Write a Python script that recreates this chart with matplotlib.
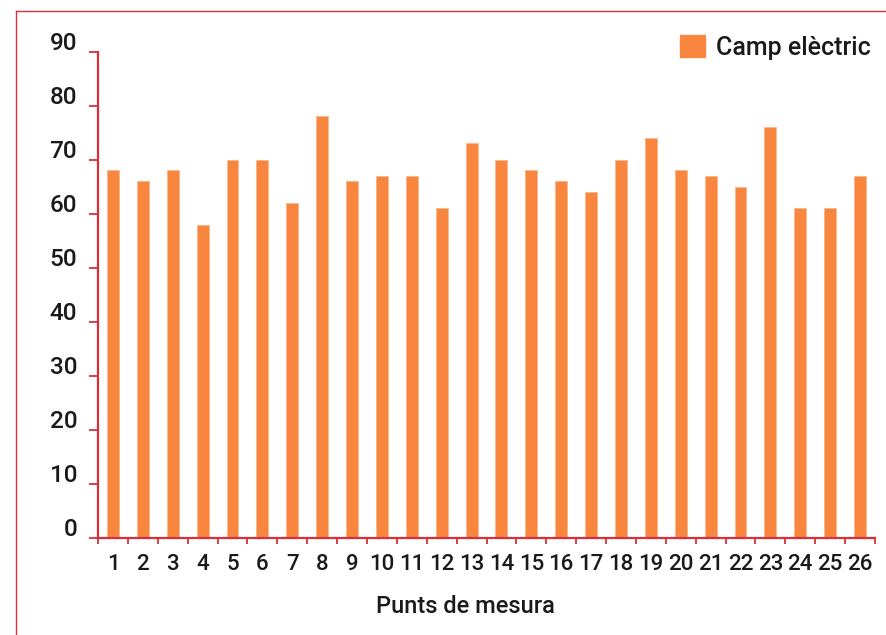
import matplotlib
matplotlib.use("Agg")
import matplotlib.pyplot as plt
import matplotlib.transforms as mtransforms
from matplotlib.lines import Line2D
from matplotlib.patches import Patch

# ---- data ----
points = list(range(1, 27))
values = [68, 66, 68, 58, 70, 70, 62, 78, 66, 67, 67, 61, 73,
          70, 68, 66, 64, 70, 74, 68, 67, 65, 76, 61, 61, 67]
y_ticks = [0, 10, 20, 30, 40, 50, 60, 70, 80, 90]
series_name = "Camp elèctric"
x_label = "Punts de mesura"

RED = "#d8303b"
ORANGE = "#f8863f"
TXT = "#1a1a1a"

plt.rcParams['font.family'] = ['Roboto', 'DejaVu Sans']
plt.rcParams['font.weight'] = 'medium'
plt.rcParams['axes.labelweight'] = 'medium'

W, H = 886, 635
fig = plt.figure(figsize=(W / 100, H / 100), dpi=100)
ax = fig.add_axes([98 / W, 1 - 537.7 / H, 777 / W, (537.7 - 51.7) / H])

ax.bar(points, values, width=0.4, color=ORANGE, edgecolor="#fbb58a",
       linewidth=0.6, label=series_name, zorder=2)

ax.set_xlim(0.5, 26.5)
ax.set_ylim(0, 90)

for s in ("top", "right"):
    ax.spines[s].set_visible(False)
for s in ("left", "bottom"):
    ax.spines[s].set_color(RED)
    ax.spines[s].set_linewidth(1.6)

# y ticks
ax.set_yticks(y_ticks)
ax.set_yticklabels([str(v) for v in y_ticks])
ax.tick_params(axis="y", direction="out", length=6.5, width=1.3, color=RED,
               labelsize=17.5, labelcolor=TXT, pad=8.5)
off = mtransforms.ScaledTranslation(0, 2 / 100, fig.dpi_scale_trans)
for lab in ax.get_yticklabels():
    lab.set_va("baseline")
    lab.set_transform(lab.get_transform() + off)

# x ticks: marks at boundaries, labels at centers
bounds = [p - 0.5 for p in points] + [points[-1] + 0.5]
ax.set_xticks(bounds)
ax.set_xticklabels([""] * len(bounds))
ax.tick_params(axis="x", which="major", direction="out", length=4.3,
               width=1.3, color=RED)
ax.set_xticks(points, minor=True)
ax.set_xticklabels([str(p) for p in points], minor=True)
ax.tick_params(axis="x", which="minor", length=0, labelsize=16,
               labelcolor=TXT, pad=12)

ax.set_xlabel(x_label, fontsize=17, color=TXT, fontweight="medium")
ax.xaxis.set_label_coords((465 - 98) / 777, -(595 - 537.7) / 486)

# legend
ax.legend(handles=[Patch(color=ORANGE, label=series_name)],
          loc="upper right", bbox_to_anchor=(871 / W, 1 - 35 / H),
          bbox_transform=fig.transFigure, frameon=False, fontsize=18,
          handlelength=1.0, handleheight=1.0, handletextpad=0.45,
          borderpad=0, borderaxespad=0, labelcolor=TXT)

# outer frame (left and top red lines)
fx = 16 / W
fy = 1 - 11 / H
fig.add_artist(Line2D([fx, fx], [0, fy], transform=fig.transFigure,
                      color=RED, linewidth=1.0))
fig.add_artist(Line2D([fx, 1], [fy, fy], transform=fig.transFigure,
                      color=RED, linewidth=1.0))

fig.savefig("out.png", dpi=100)
